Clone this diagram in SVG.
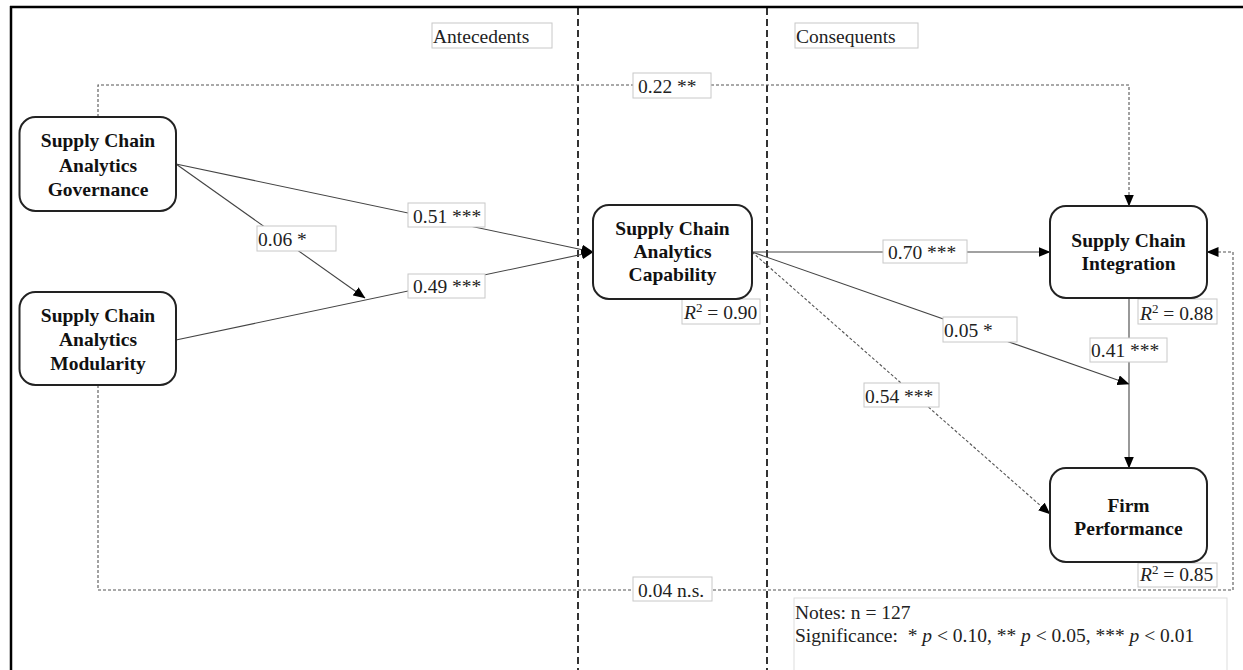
<svg xmlns="http://www.w3.org/2000/svg" width="1243" height="670" viewBox="0 0 1243 670">
<style>
.node{fill:#fff;stroke:#222;stroke-width:2}
.nt{font-family:"Liberation Serif",serif;font-weight:bold;font-size:19.5px;fill:#111;text-anchor:middle}
.lb{fill:#fff;stroke:#c8c8c8;stroke-width:1}
.lt{font-family:"Liberation Serif",serif;font-size:19.5px;fill:#222}
.c{fill:none;stroke:#444;stroke-width:1.1}
.d{fill:none;stroke:#555;stroke-width:1.1;stroke-dasharray:3 2}
.sep{stroke:#000;stroke-width:1.6;stroke-dasharray:7 4}
</style>
<defs>
<marker id="ah" markerUnits="userSpaceOnUse" markerWidth="12" markerHeight="10" viewBox="0 0 12 10" refX="11.5" refY="5" orient="auto">
<path d="M0,0 L12,5 L0,10 Z" fill="#000"/>
</marker>
</defs>
<rect width="1243" height="670" fill="#fff"/>
<g id="frame">
<line x1="10" y1="7" x2="1243" y2="7" stroke="#000" stroke-width="2.5"/>
<line x1="11" y1="6" x2="11" y2="670" stroke="#000" stroke-width="2.5"/>
<line class="sep" x1="578" y1="8" x2="578" y2="670"/>
<line class="sep" x1="767" y1="8" x2="767" y2="670"/>
</g>
<g id="connectors">
<path class="c" d="M176,164 L593,252" marker-end="url(#ah)"/>
<path class="c" d="M176,340 L593,252" marker-end="url(#ah)"/>
<path class="c" d="M176,164 L365,298" marker-end="url(#ah)"/>
<path class="c" d="M752,252 L1050,252" marker-end="url(#ah)"/>
<path class="c" d="M752,252 L1129,384" marker-end="url(#ah)"/>
<path class="d" d="M752,252 L1050,514" marker-end="url(#ah)"/>
<path class="c" d="M1129,298 L1129,468" marker-end="url(#ah)"/>
<path class="d" d="M98,117 V85 H1129 V206" marker-end="url(#ah)"/>
<path class="d" d="M98,385 V590 H1233 V252 H1207" marker-end="url(#ah)"/>
</g>
<g id="labels">
<rect class="lb" x="432" y="23" width="120" height="25"/><text class="lt" x="433" y="43">Antecedents</text>
<rect class="lb" x="795" y="23" width="123" height="25"/><text class="lt" x="796" y="43">Consequents</text>
<rect class="lb" x="633" y="73" width="78" height="25"/><text class="lt" x="638" y="93">0.22 **</text>
<rect class="lb" x="408" y="203" width="77" height="24"/><text class="lt" x="413" y="223">0.51 ***</text>
<rect class="lb" x="408" y="274" width="77" height="24"/><text class="lt" x="413" y="293">0.49 ***</text>
<rect class="lb" x="257" y="226" width="79" height="25"/><text class="lt" x="258" y="246">0.06 *</text>
<rect class="lb" x="883" y="240" width="84" height="23"/><text class="lt" x="888" y="259">0.70 ***</text>
<rect class="lb" x="943" y="317" width="74" height="25"/><text class="lt" x="944" y="337">0.05 *</text>
<rect class="lb" x="1090" y="338" width="77" height="24"/><text class="lt" x="1091" y="357">0.41 ***</text>
<rect class="lb" x="864" y="383" width="75" height="24"/><text class="lt" x="865" y="403">0.54 ***</text>
<rect class="lb" x="633" y="577" width="79" height="24"/><text class="lt" x="638" y="597">0.04 n.s.</text>
<rect class="lb" x="682" y="299" width="78" height="25"/><text class="lt" x="684" y="319"><tspan font-style="italic">R</tspan><tspan font-size="13" dy="-7">2</tspan><tspan dy="7"> = 0.90</tspan></text>
<rect class="lb" x="1138" y="299" width="79" height="25"/><text class="lt" x="1140" y="320"><tspan font-style="italic">R</tspan><tspan font-size="13" dy="-7">2</tspan><tspan dy="7"> = 0.88</tspan></text>
<rect class="lb" x="1138" y="563" width="79" height="24"/><text class="lt" x="1140" y="581"><tspan font-style="italic">R</tspan><tspan font-size="13" dy="-7">2</tspan><tspan dy="7"> = 0.85</tspan></text>
</g>
<g id="notes">
<rect x="794" y="598" width="433" height="80" fill="#fff" stroke="#ddd" stroke-width="1"/>
<text class="lt" x="795" y="619">Notes: n = 127</text>
<text class="lt" x="795" y="642" xml:space="preserve">Significance:  * <tspan font-style="italic">p</tspan> &lt; 0.10, ** <tspan font-style="italic">p</tspan> &lt; 0.05, *** <tspan font-style="italic">p</tspan> &lt; 0.01</text>
</g>
<g id="node-governance">
<rect class="node" x="19.5" y="117" width="156.5" height="94" rx="16"/>
<text class="nt" x="98" y="147">Supply Chain</text>
<text class="nt" x="98" y="172">Analytics</text>
<text class="nt" x="98" y="196">Governance</text>
</g>
<g id="node-modularity">
<rect class="node" x="19.5" y="292" width="156.5" height="93" rx="16"/>
<text class="nt" x="98" y="322">Supply Chain</text>
<text class="nt" x="98" y="346">Analytics</text>
<text class="nt" x="98" y="370">Modularity</text>
</g>
<g id="node-capability">
<rect class="node" x="593" y="205" width="159" height="94" rx="16"/>
<text class="nt" x="672.5" y="235">Supply Chain</text>
<text class="nt" x="672.5" y="258">Analytics</text>
<text class="nt" x="672.5" y="281">Capability</text>
</g>
<g id="node-integration">
<rect class="node" x="1050" y="206" width="157" height="92" rx="16"/>
<text class="nt" x="1128.5" y="247">Supply Chain</text>
<text class="nt" x="1128.5" y="270">Integration</text>
</g>
<g id="node-performance">
<rect class="node" x="1050" y="468" width="157" height="94" rx="16"/>
<text class="nt" x="1128.5" y="512">Firm</text>
<text class="nt" x="1128.5" y="535">Performance</text>
</g>
</svg>
